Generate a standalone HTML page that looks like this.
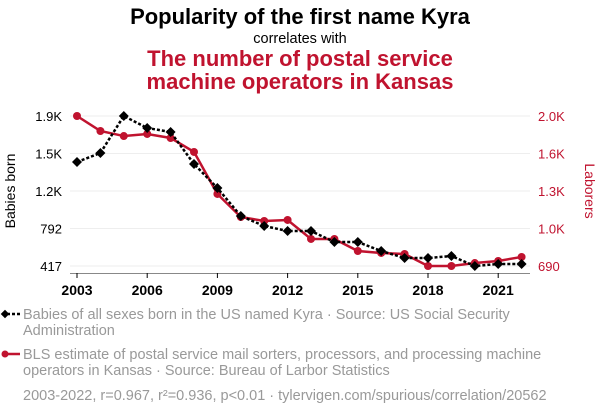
<!DOCTYPE html>
<html><head><meta charset="utf-8"><style>
body{margin:0;background:#fff;width:600px;height:414px;overflow:hidden;font-family:"Liberation Sans",sans-serif}
</style></head><body>
<svg width="600" height="414" font-family="Liberation Sans, sans-serif">
<text x="300" y="24" text-anchor="middle" font-size="22" font-weight="bold" fill="#000">Popularity of the first name Kyra</text>
<text x="300" y="43" text-anchor="middle" font-size="14.5" fill="#000">correlates with</text>
<text x="300" y="66" text-anchor="middle" font-size="22" font-weight="bold" fill="#c0132f">The number of postal service</text>
<text x="300" y="89" text-anchor="middle" font-size="22" font-weight="bold" fill="#c0132f">machine operators in Kansas</text>
<g id="grid"></g><g id="axes"></g><g id="series"></g>
<text transform="translate(15,191) rotate(-90)" text-anchor="middle" font-size="14" fill="#000">Babies born</text>
<text transform="translate(585,191) rotate(90)" text-anchor="middle" font-size="14" fill="#c0132f">Laborers</text>
<g>
<line x1="2" y1="314" x2="20" y2="314" stroke="#000" stroke-width="2.5" stroke-dasharray="3,2"/>
<rect x="2" y="311" width="6" height="6" fill="#000" transform="rotate(45 5 314)"/>
<text x="23" y="319" font-size="14.5" fill="#999">Babies of all sexes born in the US named Kyra · Source: US Social Security</text>
<text x="23" y="335" font-size="14.5" fill="#999">Administration</text></g>
<g>
<line x1="2" y1="354" x2="20" y2="354" stroke="#c0132f" stroke-width="2.5"/>
<circle cx="5" cy="354" r="3.5" fill="#c0132f"/>
<text x="23" y="359" font-size="14.5" fill="#999">BLS estimate of postal service mail sorters, processors, and processing machine</text>
<text x="23" y="375" font-size="14.5" fill="#999">operators in Kansas · Source: Bureau of Larbor Statistics</text></g>
<text x="23" y="400" font-size="14.5" fill="#999">2003-2022, r=0.967, r²=0.936, p&lt;0.01 · tylervigen.com/spurious/correlation/20562</text>
</svg>
<script>
const years=[2003,2004,2005,2006,2007,2008,2009,2010,2011,2012,2013,2014,2015,2016,2017,2018,2019,2020,2021,2022];
const kyra=[1457,1547,1917,1797,1757,1437,1197,917,817,767,767,657,657,567,497,497,517,417,437,437];
const postal=[2000,1869,1825,1843,1808,1686,1319,1118,1083,1092,926,926,821,804,795,690,690,716,734,769];
const leftTicks=[417,792,1167,1542,1917];
const leftLabels=["417","792","1.2K","1.5K","1.9K"];
const rightTicks=[690,1017.5,1345,1672.5,2000];
const rightLabels=["690","1.0K","1.3K","1.6K","2.0K"];
const xTicks=[2003,2006,2009,2012,2015,2018,2021];
const NS="http://www.w3.org/2000/svg";
const X=y=>77+(y-2003)*23.4;
const YL=v=>266-(v-417)*150/1500;
const YR=v=>266-(v-690)*150/1310;
function mk(t,a,p){const e=document.createElementNS(NS,t);for(const k in a)e.setAttribute(k,a[k]);p.appendChild(e);return e;}
const grid=document.getElementById('grid'),axes=document.getElementById('axes'),ser=document.getElementById('series');
leftTicks.forEach((v,i)=>{
const g=mk('line',{x1:70,x2:530,y1:YL(v),y2:YL(v),stroke:'#eee','stroke-width':1},grid);


const t=mk('text',{x:62,y:YL(v)+5,'text-anchor':'end','font-size':13,fill:'#000'},axes);t.textContent=leftLabels[i];

});
rightTicks.forEach((v,i)=>{
const t=mk('text',{x:538,y:YR(v)+5,'font-size':13,fill:'#c0132f'},axes);t.textContent=rightLabels[i];

});
const ax=mk('line',{x1:70,x2:530,y1:273.5,y2:273.5,stroke:'#888','stroke-width':1},axes);


xTicks.forEach(y=>{
mk('line',{x1:X(y),x2:X(y),y1:273,y2:278,stroke:'#000'},axes);
const t=mk('text',{x:X(y),y:295,'text-anchor':'middle','font-size':14,'font-weight':'bold',fill:'#000'},axes);t.textContent=y;

});
const rp=mk('polyline',{points:years.map((y,i)=>X(y)+','+YR(postal[i])).join(' '),fill:'none',stroke:'#c0132f','stroke-width':2.5},ser);


years.forEach((y,i)=>{const c=mk('circle',{cx:X(y),cy:YR(postal[i]),r:4,fill:'#c0132f'},ser);

});
const kp=mk('polyline',{points:years.map((y,i)=>X(y)+','+YL(kyra[i])).join(' '),fill:'none',stroke:'#000','stroke-width':2.5,'stroke-dasharray':'3,2'},ser);


years.forEach((y,i)=>{const x=X(y),yy=YL(kyra[i]);const d=mk('polygon',{points:`${x},${yy-5} ${x+5},${yy} ${x},${yy+5} ${x-5},${yy}`,fill:'#000'},ser);

});
</script>
</body></html>
